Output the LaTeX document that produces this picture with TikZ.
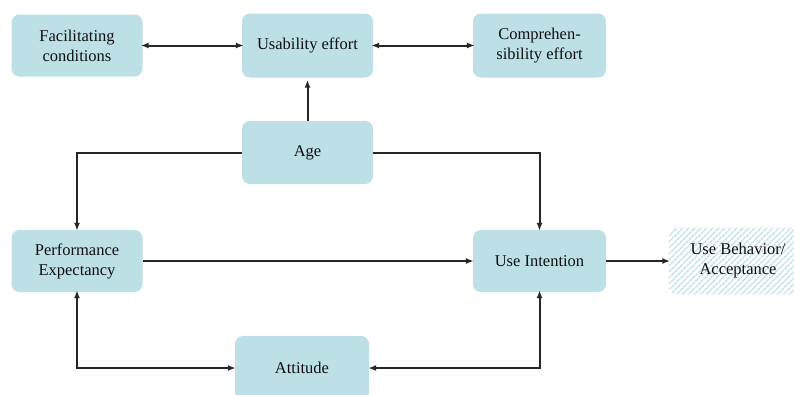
\documentclass[tikz,border=0pt]{standalone}
\usepackage{fontspec}
\setmainfont{Liberation Serif}
\usetikzlibrary{arrows.meta,patterns.meta}
\definecolor{boxblue}{RGB}{188,224,230}
\definecolor{txt}{RGB}{15,15,15}
\tikzset{
  lbl/.style={font=\fontsize{16.5}{20}\selectfont, text=txt},
  box/.style={fill=boxblue, rounded corners=8pt, align=center, inner sep=0pt, lbl},
  hatchbox/.style={pattern={Lines[angle=45,distance=4pt,line width=1.5pt]},
    pattern color=boxblue, rounded corners=8pt, align=center, inner sep=0pt, lbl},
  conn/.style={line width=2pt, draw=black!85, -{Latex[length=8pt,width=6pt]}},
  bconn/.style={line width=2pt, draw=black!85, {Latex[length=8pt,width=6pt]}-{Latex[length=8pt,width=6pt]}}
}
\begin{document}
\begin{tikzpicture}[x=1pt,y=-1pt]
\clip (0,0) rectangle (794,394);
\fill[white] (0,0) rectangle (794,394);
\node[box, minimum width=131pt, minimum height=62pt] (fac) at (77,45.5) {Facilitating\\conditions};
\node[box, minimum width=131pt, minimum height=64pt] (usa) at (307.5,45.5) {Usability effort};
\node[box, minimum width=133pt, minimum height=64pt] (comp) at (539.5,45.5) {Comprehen-\\sibility effort};
\node[box, minimum width=131pt, minimum height=63pt] (age) at (307.5,152.5) {Age};
\node[box, minimum width=131pt, minimum height=62pt] (perf) at (77,261) {Performance\\Expectancy};
\node[box, minimum width=133pt, minimum height=62pt] (ui) at (539.5,261) {Use Intention};
\node[hatchbox, minimum width=138pt, minimum height=67pt] (ub) at (738,261) {Use Behavior/\\Acceptance};
\node[box, minimum width=134pt, minimum height=64pt] (att) at (302,368) {};
\node[lbl] (attl) at (302,368) {Attitude};

\draw[bconn] ([xshift=-2pt]fac.east) -- ([xshift=2pt]usa.west);
\draw[bconn] ([xshift=-2pt]usa.east) -- ([xshift=2pt]comp.west);
\draw[conn] (age.north) -- ([yshift=-2pt]usa.south);
\draw[conn] (age.west) -| ([yshift=-1pt]perf.north);
\draw[conn] (age.east) -| ([yshift=-1pt]ui.north);
\draw[conn] (perf.east) -- ([xshift=1pt]ui.west);
\draw[conn] (ui.east) -- ([xshift=2pt]ub.west);
\draw[bconn] ([yshift=2pt]perf.south) |- ([xshift=1pt]att.west);
\draw[bconn] ([xshift=-1pt]att.east) -| ([yshift=2pt]ui.south);
\end{tikzpicture}
\end{document}
